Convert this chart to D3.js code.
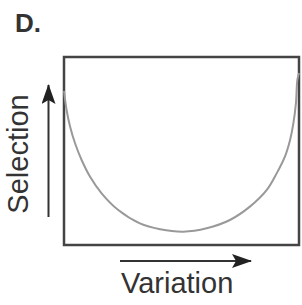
<!DOCTYPE html>
<html>
<head>
<meta charset="utf-8">
<script src="https://cdn.jsdelivr.net/npm/d3@7"></script>
<style>
  body { margin: 0; background: #fff; }
  text { font-family: "Liberation Sans", Arial, sans-serif; fill: #333; }
</style>
</head>
<body>
<svg id="chart" width="302" height="305"></svg>
<script>
const WIDTH = 302
const HEIGHT = 305

// curve (variation 0-10, selection 0-10)
const variation = [0, 0.11, 0.26, 0.47, 0.75, 1.11, 1.6, 2.31, 3.23, 4.09, 5.08, 6.07, 7.06, 7.91, 8.63, 9.05, 9.4, 9.62, 9.76, 9.87, 9.93, 10]
const selection = [8.2, 7.18, 6.29, 5.41, 4.52, 3.63, 2.75, 1.86, 1.15, 0.84, 0.71, 0.89, 1.33, 2.04, 2.93, 3.81, 4.7, 5.59, 6.47, 7.55, 8.78, 9.15]
const panelLabel = 'D.'
const xLabel = 'Variation'
const yLabel = 'Selection'

let padding = { left: 64, right: 3, top: 57, bottom: 60 };

const svg = d3.select('#chart');

const xScale = d3.scaleLinear()
    .domain([0, 10])
    .range([padding.left, WIDTH - padding.right]);

const yScale = d3.scaleLinear()
    .domain([0, 10])
    .range([HEIGHT - padding.bottom, padding.top]);

// arrow head
svg.append('defs')
    .append('marker')
    .attr('id', 'head')
    .attr('viewBox', '0 0 20 14')
    .attr('refX', 19)
    .attr('refY', 7)
    .attr('markerWidth', 20)
    .attr('markerHeight', 14)
    .attr('markerUnits', 'userSpaceOnUse')
    .attr('orient', 'auto')
    .append('path')
    .attr('d', 'M0,0 L20,7 L0,14 L4,7 Z')
    .attr('fill', '#222');

// panel letter
svg.append('text')
    .text(panelLabel)
    .attr('x', 15)
    .attr('y', 32)
    .attr('font-size', 26)
    .attr('font-weight', 'bold');

// frame
svg.append('rect')
    .attr('x', xScale(0))
    .attr('y', yScale(10))
    .attr('width', xScale(10) - xScale(0))
    .attr('height', yScale(0) - yScale(10))
    .attr('fill', 'none')
    .attr('stroke', '#444')
    .attr('stroke-width', 2.5);

// U shaped curve
let points = variation.map((v, i) => [v, selection[i]]);
svg.append('path')
    .datum(points)
    .attr('fill', 'none')
    .attr('stroke', '#999')
    .attr('stroke-width', 2)
    .attr('d', d3.line()
        .x(d => xScale(d[0]))
        .y(d => yScale(d[1]))
        .curve(d3.curveCatmullRom.alpha(0.5)));

// y arrow
svg.append('line')
    .attr('x1', 48.5)
    .attr('x2', 48.5)
    .attr('y1', yScale(0) - 28)
    .attr('y2', yScale(10) + 28)
    .attr('stroke', '#333')
    .attr('stroke-width', 2)
    .attr('marker-end', 'url(#head)');

// x arrow
svg.append('line')
    .attr('x1', 120)
    .attr('x2', 251)
    .attr('y1', 261)
    .attr('y2', 261)
    .attr('stroke', '#333')
    .attr('stroke-width', 2)
    .attr('marker-end', 'url(#head)');

// axis texts
svg.append('text')
    .text(xLabel)
    .attr('x', 121)
    .attr('y', 293)
    .attr('font-size', 29);

svg.append('text')
    .text(yLabel)
    .attr('text-anchor', 'middle')
    .attr('transform', `translate(28, 154) rotate(-90)`)
    .attr('font-size', 29);
</script>
</body>
</html>
